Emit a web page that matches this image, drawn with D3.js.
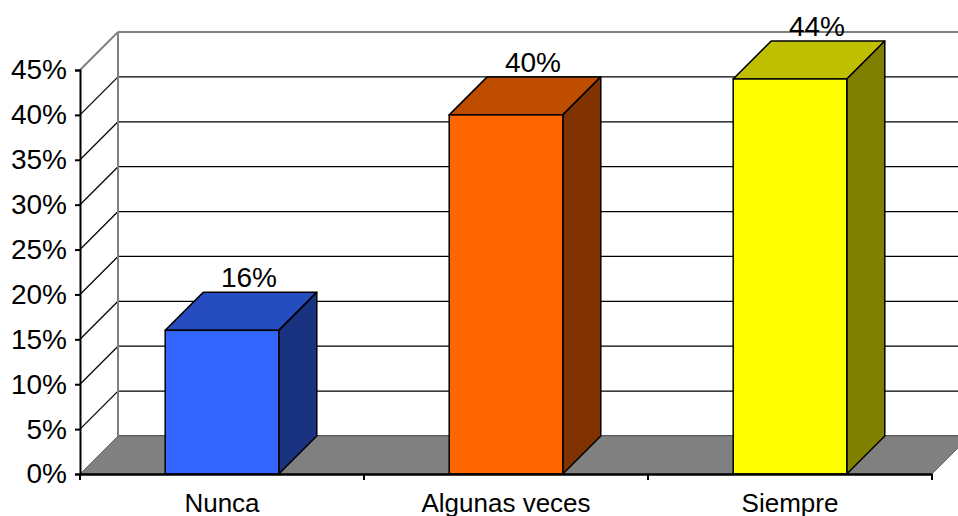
<!DOCTYPE html>
<html>
<head>
<meta charset="utf-8">
<script src="https://cdn.jsdelivr.net/npm/d3@7"></script>
<style>
  body { margin: 0; background: #fff; }
  svg text { font-family: Arial, "Liberation Sans", sans-serif; fill: #000; }
</style>
</head>
<body>
<div id="chart"></div>
<script>
// data
const categories = ["Nunca", "Algunas veces", "Siempre"];
const values = [0.16, 0.40, 0.44];
const frontColors = ["#3366ff", "#ff6600", "#ffff00"];
const yTicks = [0, 0.05, 0.10, 0.15, 0.20, 0.25, 0.30, 0.35, 0.40, 0.45];

var width = 958, height = 516,
    depth = 38; // 3d offset of back wall

const svg = d3.select("#chart").append("svg")
  .attr("width", width)
  .attr("height", height);

let y = d3.scaleLinear()
  .domain([0, 0.45])
  .range([474, 70]);

let x = d3.scaleBand()
  .domain(categories)
  .range([80, 932])
  .paddingInner(0.6)
  .paddingOuter(0.3);

const x0 = x.range()[0], x1 = x.range()[1];
const shade = (c, k) => { let r = d3.rgb(c); return d3.rgb(r.r * k, r.g * k, r.b * k).formatHex(); };

// back wall gridlines
svg.append("g").selectAll("line")
  .data(yTicks)
  .join("line")
  .attr("x1", x0 + depth).attr("x2", x1 + depth)
  .attr("y1", d => y(d) - depth).attr("y2", d => y(d) - depth)
  .attr("stroke", d => d == 0.45 ? "#808080" : "#000")
  .attr("stroke-width", d => d == 0.45 ? 2 : 1.3);

// side wall diagonals
svg.append("g").selectAll("line")
  .data(yTicks.filter(d => d > 0))
  .join("line")
  .attr("x1", x0).attr("x2", x0 + depth)
  .attr("y1", d => y(d)).attr("y2", d => y(d) - depth)
  .attr("stroke", d => d == 0.45 ? "#808080" : "#000")
  .attr("stroke-width", d => d == 0.45 ? 2 : 1.3);

// back wall left edge
svg.append("line")
  .attr("x1", x0 + depth).attr("x2", x0 + depth)
  .attr("y1", y(0.45) - depth).attr("y2", y(0) - depth)
  .attr("stroke", "#808080").attr("stroke-width", 2);

// floor
svg.append("path")
  .attr("d", `M${x0},${y(0)}L${x1},${y(0)}L${x1 + depth},${y(0) - depth}L${x0 + depth},${y(0) - depth}Z`)
  .attr("fill", "#808080")
  .attr("stroke", "#6e6e6e")
  .attr("stroke-width", 1);

// bars
const bars = svg.append("g").selectAll("g")
  .data(categories.map((c, i) => ({ name: c, value: values[i], colour: frontColors[i] })))
  .join("g");

bars.append("path") // top
  .attr("d", d => {
    let a = x(d.name), b = a + x.bandwidth(), t = y(d.value);
    return `M${a},${t}L${a + depth},${t - depth}L${b + depth},${t - depth}L${b},${t}Z`;
  })
  .attr("fill", d => shade(d.colour, 0.75))
  .attr("stroke", "#000").attr("stroke-width", 1.5).attr("stroke-linejoin", "round");

bars.append("path") // side
  .attr("d", d => {
    let b = x(d.name) + x.bandwidth(), t = y(d.value);
    return `M${b},${t}L${b + depth},${t - depth}L${b + depth},${y(0) - depth}L${b},${y(0)}Z`;
  })
  .attr("fill", d => shade(d.colour, 0.5))
  .attr("stroke", "#000").attr("stroke-width", 1.5).attr("stroke-linejoin", "round");

bars.append("rect") // front
  .attr("x", d => x(d.name))
  .attr("y", d => y(d.value))
  .attr("width", x.bandwidth())
  .attr("height", d => y(0) - y(d.value))
  .attr("fill", d => d.colour)
  .attr("stroke", "#000").attr("stroke-width", 1.5);

bars.append("text")
  .attr("x", d => x(d.name) + x.bandwidth() / 2 + 27)
  .attr("y", d => y(d.value) - depth - 5)
  .attr("text-anchor", "middle")
  .style("font-size", "28px")
  .text(d => d3.format(".0%")(d.value));

// y axis
let yAxis = d3.axisLeft(y)
  .tickValues(yTicks)
  .tickSize(5)
  .tickPadding(8)
  .tickFormat(d3.format(".0%"));

const gy = svg.append("g")
  .attr("transform", `translate(${x0},0)`)
  .call(yAxis);
gy.select(".domain").attr("stroke", "#000").attr("stroke-width", 2);
gy.selectAll(".tick line").attr("stroke", "#000").attr("stroke-width", 2);
gy.selectAll(".tick text").style("font-size", "28px").attr("font-family", null);

// x axis
let xAxis = d3.axisBottom(x)
  .tickSize(0)
  .tickPadding(20);

const gx = svg.append("g")
  .attr("transform", `translate(0,${y(0)})`)
  .call(xAxis);
gx.select(".domain").attr("stroke", "#000").attr("stroke-width", 2.5);
gx.selectAll(".tick text").style("font-size", "26px").attr("font-family", null);

// category separators
svg.append("g").selectAll("line")
  .data(d3.range(categories.length + 1))
  .join("line")
  .attr("x1", i => x0 + i * x.step()).attr("x2", i => x0 + i * x.step())
  .attr("y1", y(0)).attr("y2", y(0) + 6)
  .attr("stroke", "#000").attr("stroke-width", 2);
</script>
</body>
</html>
